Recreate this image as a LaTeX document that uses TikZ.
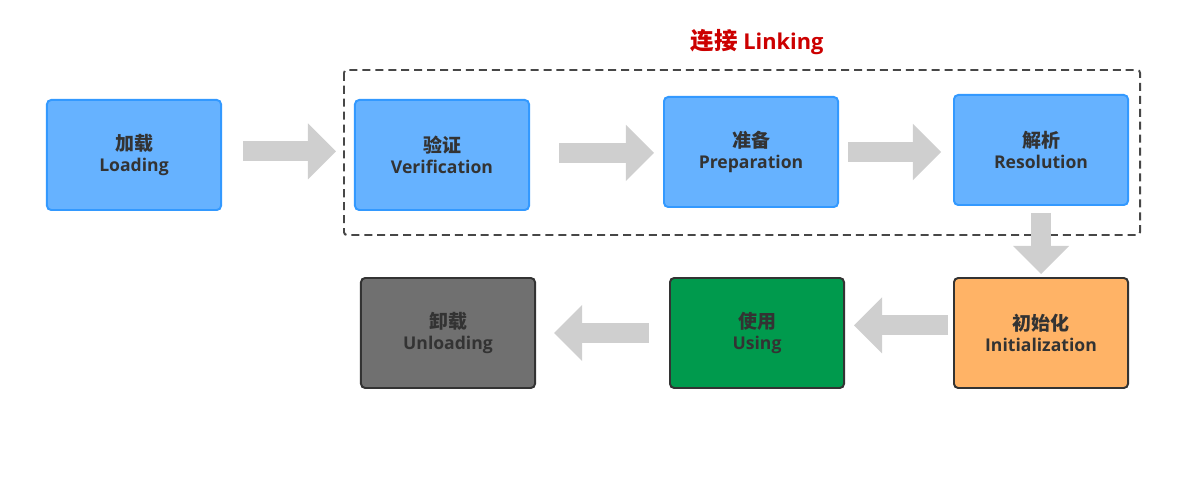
\documentclass[tikz,border=0pt]{standalone}
\usepackage{fontspec}
\setmainfont{Open Sans}
\newfontfamily\cjk{Noto Sans CJK SC}[Scale=1.08]
\usetikzlibrary{arrows.meta}
\definecolor{azul}{HTML}{66B2FF}
\definecolor{azulborde}{HTML}{3399FF}
\definecolor{naranja}{HTML}{FFB366}
\definecolor{verde}{HTML}{009A4D}
\definecolor{grismedio}{HTML}{707070}
\definecolor{borde}{HTML}{333333}
\definecolor{grisflecha}{HTML}{CFCFCF}
\definecolor{rojo}{HTML}{CC0000}
\begin{document}
\begin{tikzpicture}[x=0.025cm, y=-0.025cm,
        paso/.style={draw=borde, line width=1.4pt, rounded corners=3pt, align=center,
        minimum width=4.35cm, minimum height=2.75cm, text=borde,
        font=\bfseries\fontsize{12.5}{15}\selectfont},
        pasoazul/.style={paso, draw=azulborde, fill=azul},
        flecha/.style={draw=grisflecha, line width=0.5cm,
        -{Triangle[length=0.7cm, width=1.4cm, line width=0pt]}},
        marco/.style={draw=borde!90, line width=1.4pt, rounded corners=2pt,
        dash pattern=on 5.7pt off 3.5pt},
        titulo/.style={text=rojo, font=\bfseries\fontsize{15.5}{18}\selectfont}
    ]
        \useasboundingbox (0,0) rectangle (1189,478);
        \node[pasoazul] (load) at (134,155) {{\cjk 加载}\\Loading};
        \node[pasoazul] (verify) at (442,155) {{\cjk 验证}\\Verification};
        \node[pasoazul] (prep) at (751,152) {{\cjk 准备}\\Preparation};
        \node[pasoazul] (resol) at (1041,150) {{\cjk 解析}\\Resolution};
        \node[paso, fill=naranja] (init) at (1041,333) {{\cjk 初始化}\\Initialization};
        \node[paso, fill=verde] (use) at (757,333) {{\cjk 使用}\\Using};
        \node[paso, fill=grismedio] (unload) at (448,333) {{\cjk 卸载}\\Unloading};
        \draw[marco] (344,70) rectangle (1140,235);
        \node[titulo] (linking) at (757,42) {{\cjk 连接} Linking};
        \draw[flecha, shorten <=0.525cm, shorten >=0.45cm]
            ([yshift=0.09cm]load.east) -- ([yshift=0.09cm]verify.west);
        \draw[flecha, shorten <=0.725cm, shorten >=0.225cm]
            ([yshift=0.05cm]verify.east) -- ([yshift=0.05cm]verify.east -| prep.west);
        \draw[flecha, shorten <=0.225cm, shorten >=0.3cm]
            (prep.east) -- (prep.east -| resol.west);
        \draw[flecha, shorten <=0.175cm, shorten >=0.075cm] (resol.south) -- (init.north);
        \draw[flecha, shorten <=0.125cm, shorten >=0.225cm]
            ([yshift=0.19cm]init.west) -- ([yshift=0.19cm]use.east);
        \draw[flecha, shorten <=0.5cm, shorten >=0.45cm] (use.west) -- (unload.east);
    \end{tikzpicture}
\end{document}
